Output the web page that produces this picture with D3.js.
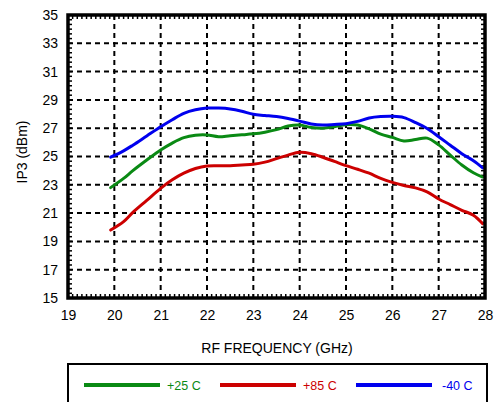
<!DOCTYPE html>
<html><head><meta charset="utf-8">
<script src="https://cdn.jsdelivr.net/npm/d3@7"></script>
<style>body{margin:0;background:#fff}svg{display:block;font-family:"Liberation Sans",Arial,sans-serif}</style>
</head><body><svg id="c" width="494" height="402"></svg>
<script>
const freq = [19.92,20.2,20.4,20.7,21.0,21.25,21.5,21.75,22.0,22.25,22.5,22.75,23.0,23.25,23.5,23.75,24.0,24.25,24.5,24.75,25.0,25.25,25.5,25.75,26.0,26.25,26.5,26.75,27.0,27.25,27.5,27.75,27.95];
const ip3_25 = [22.8,23.45,24.0,24.75,25.46,25.95,26.33,26.5,26.52,26.4,26.47,26.53,26.6,26.72,26.9,27.15,27.22,27.05,27.0,27.1,27.25,27.22,26.95,26.58,26.35,26.1,26.2,26.3,25.82,25.1,24.4,23.85,23.55];
const ip3_85 = [19.8,20.4,21.05,21.9,22.75,23.35,23.82,24.15,24.33,24.35,24.35,24.4,24.45,24.6,24.85,25.1,25.3,25.2,24.95,24.65,24.35,24.1,23.82,23.45,23.17,22.95,22.78,22.5,22.0,21.6,21.2,20.85,20.25];
const ip3_m40 = [24.95,25.4,25.8,26.45,27.1,27.6,28.05,28.3,28.42,28.42,28.36,28.2,27.98,27.9,27.82,27.68,27.5,27.3,27.22,27.26,27.32,27.48,27.72,27.82,27.84,27.75,27.4,26.98,26.4,25.8,25.2,24.7,24.2];
const seriesNames = ["+25 C","+85 C","-40 C"];
const seriesColors = ["#0a8a14","#cc0000","#0000ee"];
const xTicks = [19,20,21,22,23,24,25,26,27,28];
const yTicks = [15,17,19,21,23,25,27,29,31,33,35];

const svg = d3.select("#c");
const L=68,R=485,T=15,B=298;
const x = d3.scaleLinear().domain([19,28]).range([L,R]);
const y = d3.scaleLinear().domain([15,35]).range([B,T]);

const g = svg.append("g");
g.selectAll(".vg").data(xTicks.slice(1,-1)).enter().append("line")
 .attr("x1",d=>x(d)).attr("x2",d=>x(d)).attr("y1",T).attr("y2",B)
 .attr("stroke","#000").attr("stroke-width",2).attr("stroke-dasharray","5,4");
g.selectAll(".hg").data(yTicks.slice(1,-1)).enter().append("line")
 .attr("y1",d=>y(d)).attr("y2",d=>y(d)).attr("x1",L).attr("x2",R)
 .attr("stroke","#000").attr("stroke-width",2).attr("stroke-dasharray","5,4");

const xm = d3.range(19,28.001,0.1);
const ym = d3.range(15,35.001,1/3);
g.selectAll(".xmb").data(xm).enter().append("line").attr("x1",d=>x(d)).attr("x2",d=>x(d)).attr("y1",B).attr("y2",B-4).attr("stroke","#000").attr("stroke-width",1.5);
g.selectAll(".xmt").data(xm).enter().append("line").attr("x1",d=>x(d)).attr("x2",d=>x(d)).attr("y1",T).attr("y2",T+4).attr("stroke","#000").attr("stroke-width",1.5);
g.selectAll(".yml").data(ym).enter().append("line").attr("y1",d=>y(d)).attr("y2",d=>y(d)).attr("x1",L).attr("x2",L+4).attr("stroke","#000").attr("stroke-width",1.5);
g.selectAll(".ymr").data(ym).enter().append("line").attr("y1",d=>y(d)).attr("y2",d=>y(d)).attr("x1",R).attr("x2",R-4).attr("stroke","#000").attr("stroke-width",1.5);

const allSeries = [ip3_25, ip3_85, ip3_m40];
const line = d3.line().x(d=>x(d[0])).y(d=>y(d[1])).curve(d3.curveCatmullRom.alpha(0.5));
allSeries.forEach((s,i)=>{
  svg.append("path").datum(freq.map((f,j)=>[f,s[j]]))
   .attr("d",line).attr("fill","none").attr("stroke",seriesColors[i]).attr("stroke-width",3).attr("stroke-linecap","round");
});

svg.append("rect").attr("x",L).attr("y",T).attr("width",R-L).attr("height",B-T)
 .attr("fill","none").attr("stroke","#000").attr("stroke-width",3.5);

const xa = svg.append("g").attr("transform",`translate(0,${B})`)
 .call(d3.axisBottom(x).tickValues(xTicks).tickSize(0).tickPadding(12).tickFormat(d3.format("d")));
xa.select(".domain").remove();
xa.selectAll("text").attr("font-size",14).attr("font-family","Liberation Sans, Arial, sans-serif").attr("fill","#000");
const ya = svg.append("g").attr("transform",`translate(${L},0)`)
 .call(d3.axisLeft(y).tickValues(yTicks).tickSize(0).tickPadding(10).tickFormat(d3.format("d")));
ya.select(".domain").remove();
ya.selectAll("text").attr("font-size",14).attr("font-family","Liberation Sans, Arial, sans-serif").attr("fill","#000");

svg.append("text").attr("x",277).attr("y",353).attr("text-anchor","middle").attr("font-size",14).text("RF FREQUENCY (GHz)");
svg.append("text").attr("transform","translate(27,152) rotate(-90)").attr("text-anchor","middle").attr("font-size",14).text("IP3 (dBm)");

svg.append("rect").attr("x",68).attr("y",364).attr("width",419).attr("height",60).attr("fill","none").attr("stroke","#000").attr("stroke-width",2);
const lx=[84,220,356];
seriesNames.forEach((n,i)=>{
  svg.append("line").attr("x1",lx[i]).attr("x2",lx[i]+76).attr("y1",385).attr("y2",385).attr("stroke",seriesColors[i]).attr("stroke-width",4);
  svg.append("text").attr("x",i===2?lx[i]+86:lx[i]+83).attr("y",389.5).attr("font-size",12.5).attr("fill",seriesColors[i]).text(n);
});
</script></body></html>
